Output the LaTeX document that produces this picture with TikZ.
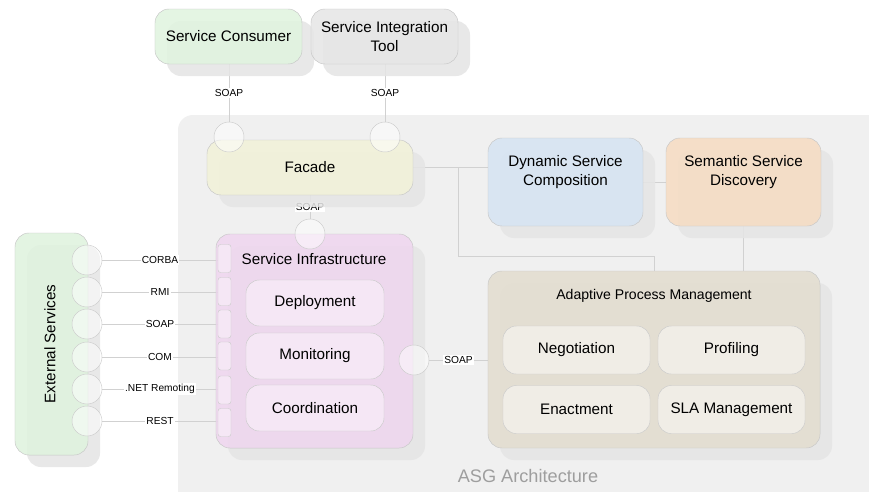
\documentclass[tikz,border=0pt]{standalone}
\usepackage{fontspec}
\setmainfont{Liberation Sans}
\usetikzlibrary{shadows,backgrounds}
\definecolor{cgreen}{HTML}{E0F4DF}
\definecolor{cgray}{HTML}{E6E6E6}
\definecolor{cyellow}{HTML}{F2F2D8}
\definecolor{cblue}{HTML}{D6E4F3}
\definecolor{corange}{HTML}{F6DCC2}
\definecolor{cpink}{HTML}{EFD6EF}
\definecolor{cpinklight}{HTML}{F5E7F5}
\definecolor{cext}{HTML}{DFF3DE}
\definecolor{ctan}{HTML}{E3DDCF}
\definecolor{ctanlight}{HTML}{F0EDE6}

\begin{document}
\begin{tikzpicture}[x=0.03cm,y=-0.03cm,
		box/.style={draw=black!22, rounded corners=0.42cm, fill opacity=0.85, text opacity=1, align=center, inner sep=0pt,
			font=\fontsize{13}{16}\selectfont,
			general shadow={fill=black!10, shadow xshift=0.36cm, shadow yshift=-0.36cm}},
		inbox/.style={draw=black!20, rounded corners=0.4cm, inner sep=0pt, minimum height=1.38cm, font=\fontsize{13}{16}\selectfont},
		title/.style={align=center, inner sep=0pt, font=\fontsize{13}{16}\selectfont},
		iface/.style={circle, draw=black!20, fill=white, fill opacity=0.5, minimum size=0.9cm, inner sep=0pt},
		plug/.style={draw=black!20, fill=cpinklight, rounded corners=0.08cm, minimum width=0.39cm, minimum height=0.84cm, inner sep=0pt},
		proto/.style={fill=white, inner sep=1pt, font=\fontsize{8.7}{10}\selectfont},
		wire/.style={draw=black!18, line width=0.6pt}]
	\useasboundingbox (0,0) rectangle (869,491);

	\node[box, fill=cgreen, minimum width=4.41cm, minimum height=1.65cm] (consumer) at (228.5,36.5) {Service Consumer};
	\node[box, fill=cgray, minimum width=4.41cm, minimum height=1.65cm] (tool) at (384.5,36.5) {Service Integration\\Tool};
	\node[box, fill=cyellow, minimum width=6.18cm, minimum height=1.65cm] (facade) at (310,167.5) {Facade};

	\node[box, fill=cblue, minimum width=4.65cm, minimum height=2.64cm] (dsc) at (565.5,182) {};
	\node[title] (dsctext) at (565.5,172) {Dynamic Service\\Composition};
	\node[box, fill=corange, minimum width=4.65cm, minimum height=2.64cm] (ssd) at (743.5,182) {};
	\node[title] (ssdtext) at (743.5,172) {Semantic Service\\Discovery};

	\node[box, fill=cext, minimum width=2.19cm, minimum height=6.66cm] (ext) at (51.5,344) {};
	\node[title, rotate=90] (exttext) at (50,344) {External Services};

	\node[box, fill=cpink, minimum width=5.91cm, minimum height=6.42cm] (infra) at (314.5,341) {};
	\node[title] (infratext) at (314,259) {Service Infrastructure};
	\node[inbox, fill=cpinklight, minimum width=4.14cm] (deploy) at (315,303) {Deployment};
	\node[inbox, fill=cpinklight, minimum width=4.14cm] (monitor) at (315,356) {Monitoring};
	\node[inbox, fill=cpinklight, minimum width=4.14cm] (coord) at (315,408) {Coordination};
	\foreach \y [count=\i] in {258.5,291.5,324,356,390,422.5}
		\node[plug] (plug\i) at (224.5,\y) {};

	\node[box, fill=ctan, minimum width=9.96cm, minimum height=5.31cm] (apm) at (654,359.5) {};
	\node[title, font=\fontsize{12}{14}\selectfont] (apmtext) at (654,296) {Adaptive Process Management};
	\node[inbox, fill=ctanlight, minimum width=4.41cm, minimum height=1.44cm] (nego) at (576.5,350) {Negotiation};
	\node[inbox, fill=ctanlight, minimum width=4.41cm, minimum height=1.44cm] (prof) at (731.5,350) {Profiling};
	\node[inbox, fill=ctanlight, minimum width=4.41cm, minimum height=1.44cm] (enact) at (576.5,409.5) {Enactment};
	\node[inbox, fill=ctanlight, minimum width=4.41cm, minimum height=1.44cm] (sla) at (731.5,409.5) {SLA Management};

	\foreach \y [count=\i] in {260,292,324,357,389,421}
		\node[iface] (ext\i) at (87,\y) {};
	\node[iface] (fac1) at (229,137) {};
	\node[iface] (fac2) at (385,137) {};
	\node[iface] (fac3) at (310,234) {};
	\node[iface] (infraout) at (414,360) {};

	\node[text=black!38, font=\fontsize{15.5}{18}\selectfont] (asg) at (528,476) {ASG Architecture};

	\begin{scope}[on background layer]
		\fill[white] (0,0) rectangle (869,491);
		\fill[black!6, rounded corners=0.45cm] (178,115) rectangle (900,520);
		\draw[wire] (consumer.south -| fac1) -- (fac1) node[midway, proto]{SOAP};
		\draw[wire] (tool.south -| fac2) -- (fac2) node[midway, proto]{SOAP};
		\draw[wire] (facade.south -| fac3) -- (fac3) node[midway, proto]{SOAP};
		\foreach \i/\t in {1/CORBA,2/RMI,3/SOAP,4/COM,5/.NET Remoting,6/REST}
			\draw[wire] (ext\i) -- (ext\i -| plug\i.west) node[midway, proto]{\t};
		\draw[wire] (infraout) -- (infraout -| apm.west) node[midway, proto]{SOAP};
		\draw[wire] (facade.east) -- (facade.east -| dsc.west) coordinate[pos=0.6] (fork);
		\draw[wire] (fork) |- ([yshift=0.42cm]apm.north) -- (apm.north);
		\draw[wire] (dsc) -- (ssd);
		\draw[wire] (ssd) -- (ssd |- apm.north);
	\end{scope}
\end{tikzpicture}
\end{document}
